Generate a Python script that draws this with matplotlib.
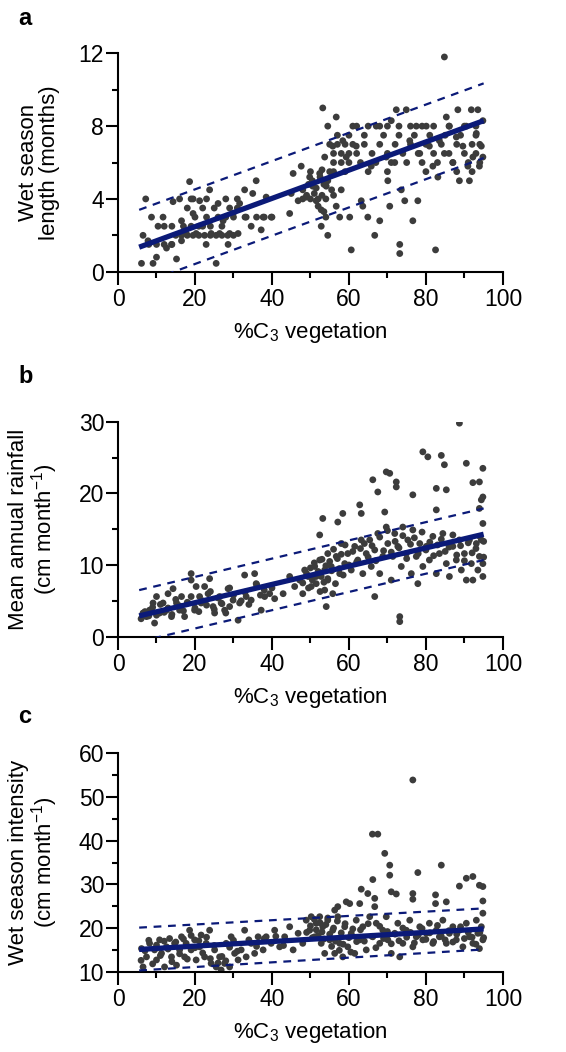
import numpy as np
import matplotlib
matplotlib.use('Agg')
import matplotlib.pyplot as plt
from matplotlib.ticker import MultipleLocator, AutoMinorLocator

plt.rcParams['font.family'] = ['Liberation Sans', 'DejaVu Sans']
plt.rcParams['mathtext.fontset'] = 'custom'
plt.rcParams['mathtext.rm'] = 'Liberation Sans'

# ---- panel a: wet season length (months) ----
a_x = [6.1, 7.2, 6.5, 7.8, 9.1, 10.0, 8.7, 10.4, 11.7, 12.6, 13.9, 14.3, 15.2, 16.5, 16.5, 17.7,
       18.6, 19.0, 19.5, 20.3, 21.2, 22.0, 22.9, 23.8, 24.2, 25.5, 26.0, 26.4, 27.3, 28.6, 29.0,
       29.9, 31.2, 31.6, 32.9, 33.3, 34.6, 35.0, 35.9, 37.2, 37.7, 38.5, 39.8, 44.6, 45.0, 45.5,
       46.8, 47.6, 48.0, 48.9, 49.8, 50.6, 51.5, 52.4, 52.8, 52.8, 53.2, 53.7, 54.1, 54.5, 54.5,
       55.8, 56.7, 56.7, 57.6, 58.0, 58.4, 59.3, 60.2, 60.6, 61.0, 61.9, 63.2, 63.6, 64.9, 65.8,
       66.7, 67.1, 68.0, 69.7, 70.1, 70.6, 71.0, 71.9, 72.3, 73.2, 73.2, 73.6, 74.5, 74.9, 75.8,
       76.6, 77.5, 77.9, 78.4, 80.1, 80.9, 81.8, 82.5, 83.1, 83.5, 84.8, 84.8, 85.3, 86.1, 87.0,
       87.9, 88.3, 88.7, 89.6, 90.5, 90.9, 91.3, 91.8, 92.2, 93.1, 93.5, 93.9, 94.4, 94.8, 94.8,
       15, 16.5, 18, 19.5, 21, 22.5, 24, 25.5, 27, 28.5, 30, 8, 10, 12, 14,
       12, 14, 17, 19, 21, 24, 27, 20, 23, 26, 28, 30, 33, 36, 38, 40,
       18, 22, 25, 29, 31, 16, 19.5, 23, 28, 31,
       48, 49, 50, 51, 52, 53, 54, 49.5, 50.5, 51.5, 52.5, 53.5, 54.5, 55, 53, 52, 53.5, 54,
       55.5, 56, 50,
       55, 57, 59, 61, 64, 68, 72, 76, 80, 84, 88, 92, 94,
       56, 58, 60, 62, 66, 70, 74, 78, 82, 86, 90, 93,
       56, 58, 60, 63, 67, 71, 75, 79, 83, 87, 91, 94,
       57, 60, 64, 69, 73, 77, 81, 85, 89, 93,
       62, 65, 68, 70, 73, 76, 79, 82, 86, 90, 93,
       56, 59, 65, 70, 80, 88, 92]
a_y = [0.46, 4.0, 2.0, 1.7, 0.46, 0.8, 3.0, 2.5, 3.0, 1.3, 1.5, 3.85, 0.7, 1.7, 2.8, 2.1,
       4.95, 4.0, 3.2, 2.1, 3.9, 2.5, 1.5, 4.5, 2.1, 0.46, 3.75, 2.1, 2.8, 1.5, 2.1,
       3.2, 2.1, 3.75, 4.5, 3.0, 2.5, 4.3, 5.0, 2.3, 3.0, 4.1, 3.0, 3.2, 4.3, 5.4,
       3.9, 5.8, 4.5, 4.1, 5.2, 4.7, 3.9, 5.4, 3.4, 2.5, 9.0, 6.3, 4.7, 8.0, 2.0,
       6.9, 8.5, 3.6, 3.0, 4.5, 7.2, 6.3, 3.0, 1.2, 8.0, 6.9, 3.9, 3.6, 3.0, 5.8,
       2.0, 8.0, 2.8, 6.3, 5.0, 3.6, 8.3, 6.0, 8.9, 1.0, 1.5, 4.5, 3.9, 8.9, 7.2,
       2.8, 8.0, 3.9, 6.5, 8.0, 6.9, 5.8, 1.2, 5.2, 7.2, 11.8, 6.5, 8.5, 8.0, 6.0,
       7.4, 8.9, 5.0, 6.9, 8.0, 5.8, 5.0, 8.9, 6.3, 7.6, 8.9, 5.8, 6.9, 8.3, 6.3,
       2.0, 2.0, 2.0, 2.0, 2.0, 2.0, 2.0, 2.0, 2.0, 2.0, 2.0, 1.5, 1.5, 1.5, 1.5,
       2.5, 2.5, 2.5, 2.5, 2.5, 2.5, 2.5, 3.0, 3.0, 3.0, 3.0, 3.0, 3.0, 3.0, 3.0, 3.0,
       3.5, 3.5, 3.5, 3.5, 3.5, 4.0, 4.0, 4.0, 4.0, 4.0,
       4.0, 4.2, 4.0, 4.3, 4.0, 4.2, 4.0, 4.8, 5.0, 4.6, 5.2, 4.8, 5.0, 5.5, 5.6, 3.6, 3.3, 3.0,
       4.5, 4.2, 5.5,
       7.0, 7.0, 7.0, 7.0, 7.0, 7.0, 7.0, 7.0, 7.0, 7.0, 7.0, 7.0, 7.0,
       6.5, 6.5, 6.5, 6.5, 6.5, 6.5, 6.5, 6.5, 6.5, 6.5, 6.5, 6.5,
       6.0, 6.0, 6.0, 6.0, 6.0, 6.0, 6.0, 6.0, 6.0, 6.0, 6.0, 6.0,
       7.5, 7.5, 7.5, 7.5, 7.5, 7.5, 7.5, 7.5, 7.5, 7.5,
       8.0, 8.0, 8.0, 8.0, 8.0, 8.0, 8.0, 8.0, 8.0, 8.0, 8.0,
       5.5, 5.5, 5.5, 5.5, 5.5, 5.5, 5.5]

# ---- panel b: mean annual rainfall (cm/month) ----
b_x = [88.7, 79.2, 80.5, 84.0, 84.8, 90.5, 94.8, 69.7, 70.6, 66.2, 72.3, 72.3, 93.9, 92.2, 67.5,
       76.6, 82.7, 85.3, 94.8, 94.4, 62.8, 63.2, 82.7, 69.3, 58.4, 57.1, 53.2, 52.4, 93.9, 94.8,
       73.2, 73.2, 54.1, 66.7, 77.9,
       6.5, 7.4, 8.2, 9.1, 9.5, 10.0, 10.8, 11.7, 12.6, 13.0, 13.9, 14.3, 15.2, 16.0, 16.5, 17.3,
       18.2, 19.0, 19.0, 19.9, 20.3, 21.2, 21.6, 22.5, 23.4, 23.8, 24.7, 25.1, 26.4, 26.8, 27.7,
       28.6, 29.0, 29.9, 31.2, 31.6, 32.9, 33.3, 34.6, 35.5, 35.9, 37.2, 38.1, 39.4, 40.7, 42.9,
       44.6, 45.9, 47.2, 48.0, 48.5, 49.4, 50.2, 51.1, 51.5, 52.4, 52.8, 53.7, 53.7, 54.5, 54.5,
       55.4, 55.8, 56.7, 57.6, 58.0, 58.9, 59.7, 60.6, 61.5, 62.3, 63.2, 63.6, 64.5, 65.4, 65.8,
       66.7, 67.5, 68.0, 68.8, 69.7, 70.1, 71.0, 71.4, 71.9, 72.7, 73.6, 74.0, 74.9, 75.3, 76.2,
       76.6, 77.5, 78.4, 79.2, 80.1, 80.9, 81.8, 82.7, 83.5, 84.4, 85.3, 86.1, 87.0, 87.9, 88.7,
       89.2, 90.0, 90.5, 91.3, 91.8, 92.2, 93.1, 93.5, 93.9, 94.4, 94.8, 94.8,
       6, 7, 8, 9, 10, 11, 12, 13, 14, 15, 16, 17, 18, 19, 20, 21, 22, 23, 24, 25, 26, 27, 28,
       29, 30, 32, 33, 34, 36, 37, 38, 40,
       48, 49, 49.5, 50, 50.5, 51, 51.5, 52, 52.5, 53, 53.5, 54, 54.5, 55, 55.5, 56, 56.5, 57,
       57.5, 58, 58.5, 59, 60, 61, 62, 63,
       64, 65, 66, 67, 68, 69, 70, 71, 72, 73, 74, 75, 76, 77, 78, 79, 80, 81, 82, 83, 84, 85,
       86, 87, 88, 89, 90, 91, 92, 93, 94, 95, 95]
b_y = [29.8, 25.8, 25.1, 25.3, 24.0, 24.2, 23.5, 23.0, 22.8, 21.9, 21.6, 20.9, 21.6, 21.5, 20.2,
       19.8, 20.7, 20.5, 19.5, 19.1, 18.4, 17.2, 17.7, 17.4, 17.2, 16.0, 16.5, 14.2, 17.9, 15.8,
       2.8, 2.1, 4.2, 5.6, 7.4,
       3.3, 2.8, 3.7, 4.7, 1.9, 5.6, 3.3, 4.7, 3.7, 6.0, 2.8, 6.7, 4.7, 3.7, 5.6, 2.8,
       4.7, 8.8, 7.9, 3.7, 7.0, 5.6, 4.7, 7.0, 6.0, 8.1, 4.2, 3.3, 5.6, 4.7, 3.7,
       6.7, 4.2, 5.1, 2.3, 4.7, 8.6, 5.6, 5.1, 8.8, 7.4, 3.7, 5.6, 6.0, 5.3, 6.0,
       8.4, 7.0, 7.9, 6.0, 9.3, 8.4, 7.0, 9.8, 7.4, 10.7, 8.4, 9.3, 6.5, 11.6, 7.9,
       9.8, 6.0, 11.2, 8.8, 13.0, 10.2, 11.6, 9.3, 12.6, 10.7, 13.5, 8.8, 11.6, 13.5, 9.8,
       12.1, 14.4, 8.8, 11.2, 15.3, 13.0, 7.9, 11.2, 14.4, 12.6, 9.8, 15.3, 11.6, 13.5, 8.8,
       14.9, 11.2, 13.0, 9.8, 12.6, 10.7, 14.0, 8.8, 11.6, 14.4, 10.2, 8.4, 12.6, 10.7, 13.5,
       9.3, 11.6, 7.9, 13.5, 10.2, 7.9, 13.0, 9.3, 11.2, 13.5, 10.2, 8.4,
       2.5, 3.5, 2.9, 4.1, 3.0, 4.5, 3.4, 4.0, 3.1, 5.2, 4.3, 3.6, 4.8, 5.6, 4.0, 3.5, 5.0, 4.4,
       6.3, 3.8, 5.4, 4.6, 3.3, 6.8, 5.8, 5.0, 6.2, 4.5, 7.3, 5.8, 6.5, 6.8,
       7.5, 8.8, 6.8, 9.6, 7.9, 10.3, 8.4, 9.1, 6.3, 10.8, 7.6, 9.9, 8.1, 10.5, 9.2, 12.2, 7.4,
       10.9, 9.5, 11.5, 8.6, 12.8, 10.0, 11.9, 10.4, 12.3,
       13.0, 11.1, 12.7, 10.6, 13.9, 12.0, 14.8, 11.8, 13.3, 12.4, 14.1, 10.9, 12.9, 13.8, 11.6,
       14.6, 12.1, 13.2, 11.3, 12.8, 13.6, 11.9, 12.5, 14.2, 11.4, 12.7, 10.6, 13.1, 11.7, 12.3,
       14.0, 11.1, 13.3]

# ---- panel c: wet season intensity (cm/month) ----
c_x = [76.6, 66.1, 67.5, 69.3, 70.6, 70.6, 84.0, 77.9, 66.2, 90.5, 92.2, 88.7, 93.9, 94.8,
       63.2, 64.9, 71.0, 72.3, 76.6, 76.6, 66.7, 66.7, 82.5, 82.5, 85.3, 94.8, 59.3, 60.2,
       57.1, 56.3, 62.8,
       6.1, 6.5, 7.4, 8.2, 9.5, 10.0, 10.8, 11.3, 12.1, 12.6, 13.4, 13.9, 14.7, 15.2, 16.0,
       16.5, 17.3, 17.7, 18.6, 19.0, 19.9, 20.3, 21.2, 21.6, 22.5, 22.9, 23.8, 24.2, 25.1, 25.5,
       26.4, 26.8, 27.7, 28.1, 29.0, 29.4, 30.3, 31.2, 32.0, 32.9, 33.3, 34.6, 35.5, 36.4, 37.7,
       38.5, 39.8, 40.7, 42.0, 43.3, 44.6, 45.5, 46.8, 48.0, 48.9, 49.8, 50.2, 51.1, 51.5, 52.4,
       52.8, 53.2, 53.7, 54.5, 55.0, 55.8, 56.3, 57.1, 57.6, 58.4, 58.9, 59.7, 60.6, 61.5, 61.9,
       62.8, 63.6, 64.5, 65.4, 66.2, 67.1, 68.0, 68.8, 69.7, 70.1, 71.0, 71.9, 72.7, 73.2, 74.0,
       74.9, 75.8, 76.6, 77.5, 78.4, 79.2, 80.1, 80.9, 81.8, 82.7, 83.5, 84.4, 85.3, 86.1, 87.0,
       87.9, 88.7, 89.6, 90.5, 91.3, 92.2, 93.1, 93.5, 93.9, 94.4, 94.8, 94.8,
       6, 7, 8, 9, 10, 11, 12, 13, 14, 15, 16, 17, 18, 19, 20, 21, 22, 23, 24, 25, 26, 27, 28,
       29, 30, 31, 34, 36, 38, 41, 43,
       49, 50, 50.5, 51, 51.5, 52, 52.5, 53, 53.5, 54, 54.5, 55, 55.5, 56, 56.5, 57, 57.5, 58,
       58.5, 59, 60, 60.5, 61, 62,
       63, 64, 65, 66, 67, 68, 69, 70, 71, 72, 73, 74, 75, 76, 77, 78, 79, 80, 81, 82, 83, 84,
       85, 86, 87, 88, 89, 90, 91, 92, 93, 94, 95]
c_y = [53.9, 41.5, 41.5, 37.1, 34.4, 32.1, 34.4, 32.7, 31.1, 31.4, 31.8, 29.6, 29.8, 29.5,
       28.9, 27.9, 28.3, 27.8, 27.9, 26.6, 26.8, 24.9, 27.6, 25.6, 26.0, 26.2, 26.0, 25.6,
       24.9, 24.1, 25.6,
       15.3, 11.1, 13.4, 16.5, 15.0, 12.7, 17.3, 14.2, 11.1, 15.7, 17.6, 13.4, 16.5, 11.5, 15.0,
       18.0, 13.4, 16.5, 19.5, 15.0, 17.3, 12.7, 15.7, 18.4, 13.4, 16.5, 19.5, 11.9, 15.0, 11.1,
       13.4, 10.4, 11.9, 16.5, 11.1, 18.0, 14.2, 12.7, 15.0, 19.5, 13.4, 16.5, 14.2, 18.0, 15.0,
       18.0, 16.5, 19.5, 15.7, 18.0, 20.3, 15.0, 18.8, 16.5, 21.8, 19.5, 22.6, 18.0, 21.1, 22.6,
       16.5, 20.3, 14.2, 21.8, 17.3, 19.5, 14.2, 22.6, 16.5, 13.4, 20.3, 15.7, 18.8, 14.2, 21.8,
       17.3, 20.3, 15.0, 22.6, 18.0, 21.1, 16.5, 19.5, 22.6, 17.3, 14.2, 18.8, 21.1, 13.4, 16.5,
       19.5, 21.8, 15.7, 18.0, 20.3, 17.3, 18.8, 21.1, 16.5, 19.5, 18.0, 21.8, 16.5, 18.8, 20.3,
       17.3, 19.5, 15.7, 21.1, 18.0, 16.5, 21.8, 18.8, 15.3, 20.3, 17.3, 23.4,
       12.6, 14.8, 17.2, 11.8, 16.1, 13.7, 17.0, 15.2, 12.3, 16.8, 14.1, 17.5, 12.9, 18.3, 15.5,
       17.1, 14.3, 17.9, 13.0, 16.0, 12.0, 13.5, 12.5, 15.6, 17.2, 14.7, 17.3, 15.8, 17.6, 18.1,
       16.0,
       19.0, 20.5, 17.8, 22.0, 19.6, 18.3, 21.2, 19.1, 17.5, 20.8, 22.3, 18.6, 15.8, 20.0, 17.0,
       21.6, 14.9, 18.9, 16.3, 21.0, 17.8, 14.5, 19.8, 16.9,
       19.6, 17.0, 21.0, 18.1, 15.5, 20.4, 17.6, 19.2, 16.4, 18.6, 17.1, 20.0, 17.9, 19.0, 16.6,
       18.4, 19.9, 17.4, 18.9, 16.9, 20.6, 18.1, 17.3, 19.4, 16.8, 18.6, 20.3, 17.6, 19.0, 17.9,
       16.3, 18.9, 17.8]

# fitted line and prediction band end points
fit_x = [5.5, 95]
a_fit, a_up, a_lo = [1.35, 8.3], [3.4, 10.35], [-0.7, 6.25]
b_fit, b_up, b_lo = [2.9, 14.3], [6.5, 17.9], [-0.7, 10.7]
c_fit, c_up, c_lo = [15.1, 19.8], [20.1, 24.5], [10.3, 15.1]

xlabel = '%C$_{\\mathregular{3}}$ vegetation'
panels = [
    ('a', a_x, a_y, a_fit, a_up, a_lo, (0, 12), 4, 'Wet season\nlength (months)'),
    ('b', b_x, b_y, b_fit, b_up, b_lo, (0, 30), 10, 'Mean annual rainfall\n(cm month$^{\\mathregular{-1}}$)'),
    ('c', c_x, c_y, c_fit, c_up, c_lo, (10, 60), 10, 'Wet season intensity\n(cm month$^{\\mathregular{-1}}$)'),
]
bottoms = [0.7417, 0.3948, 0.0763]
tops = [0.9493, 0.5991, 0.2839]
letter_y = [0.9762, 0.6360, 0.3127]

navy = '#0b1a78'
fig = plt.figure(figsize=(5.66, 10.52), dpi=100)

for i, (lab, x, y, fit, up, lo, ylim, ystep, ylab) in enumerate(panels):
    ax = fig.add_axes([0.2085, bottoms[i], 0.680, tops[i] - bottoms[i]])
    ax.scatter(x, y, s=24, color='#3c3c3c', edgecolors='none', zorder=2)
    ax.plot(fit_x, fit, color=navy, lw=3.8, zorder=3, solid_capstyle='butt')
    ax.plot(fit_x, up, color=navy, lw=1.6, dashes=(3.5, 3), zorder=3)
    ax.plot(fit_x, lo, color=navy, lw=1.6, dashes=(3.5, 3), zorder=3)

    ax.set_xlim(0, 100)
    ax.set_ylim(*ylim)
    ax.xaxis.set_major_locator(MultipleLocator(20))
    ax.xaxis.set_minor_locator(AutoMinorLocator(2))
    ax.yaxis.set_major_locator(MultipleLocator(ystep))
    ax.yaxis.set_minor_locator(AutoMinorLocator(2))

    for s in ['top', 'right']:
        ax.spines[s].set_visible(False)
    for s in ['left', 'bottom']:
        ax.spines[s].set_linewidth(1.5)
    ax.tick_params(which='major', direction='out', length=9, width=1.5, labelsize=16.5)
    ax.tick_params(which='minor', direction='out', length=4.5, width=1.5)
    ax.tick_params(axis='y', which='major', pad=1)
    ax.tick_params(axis='x', which='major', pad=3)

    ax.set_xlabel(xlabel, fontsize=16, labelpad=6)
    ax.set_ylabel(ylab, fontsize=16, linespacing=1.0)
    ax.yaxis.set_label_coords(-0.15, 0.5)

    fig.text(0.032, letter_y[i], lab, fontsize=17, fontweight='bold', va='baseline')

fig.savefig('out.png', dpi=100)
